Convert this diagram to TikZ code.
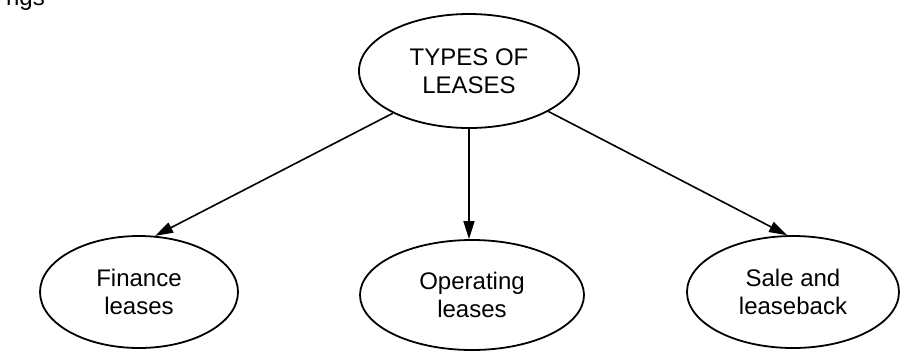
\documentclass[tikz,border=0pt]{standalone}
\usepackage{fontspec}
\setmainfont{Liberation Sans}
\usetikzlibrary{shapes.geometric,arrows.meta}
\begin{document}
\begin{tikzpicture}[x=0.5pt, y=-0.5pt,
		lease/.style={ellipse, draw, line width=0.9pt, inner sep=0pt, align=center,
			font=\fontsize{12}{14}\selectfont},
		leadto/.style={line width=0.8pt, -{Triangle[length=9pt, width=5.5pt]}}]
		\useasboundingbox (0,0) rectangle (900,350);
		\node[anchor=base west, font=\fontsize{12}{14}\selectfont] (cut) at (-1,5) {ngs};
		\node[lease, minimum width=110pt, minimum height=57pt] (types) at (469,71) {TYPES OF\\LEASES};
		\node[lease, minimum width=99pt, minimum height=56pt] (finance) at (139,292) {Finance\\leases};
		\node[lease, minimum width=112pt, minimum height=55pt] (operating) at (472,295) {Operating\\leases};
		\node[lease, minimum width=106pt, minimum height=56pt] (saleback) at (793,292) {Sale and\\leaseback};
		\draw[leadto] (types.209) -- (finance.74);
		\draw[leadto] (types.south) -- (types.south |- operating.north);
		\draw[leadto] (types.333) -- (saleback.96);
\end{tikzpicture}
\end{document}
